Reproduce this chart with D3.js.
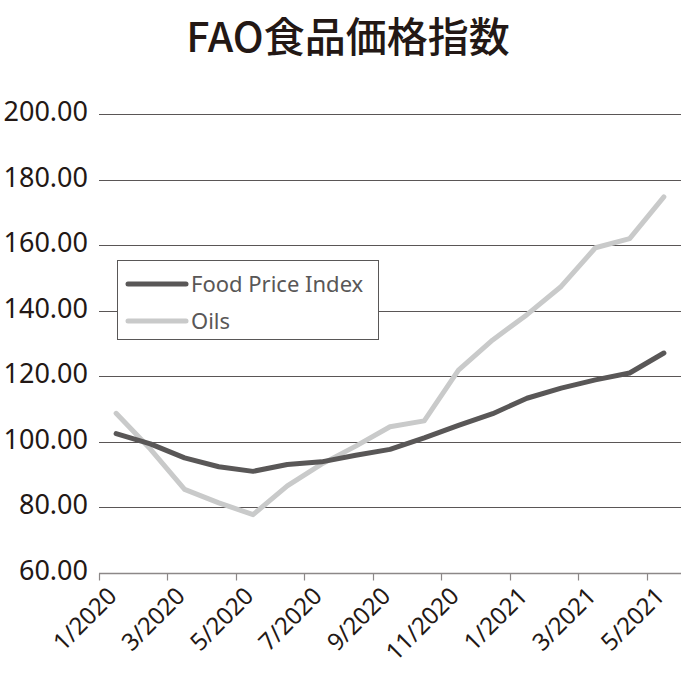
<!DOCTYPE html>
<meta charset="utf-8">
<title>FAO食品価格指数</title>
<style>
body { margin: 0; background: #fff; }
svg { display: block; font-family: "Noto Sans", "Noto Sans CJK JP", sans-serif; }
.grid line { stroke: #5a5656; stroke-width: 1; }
.tick-label { fill: #231815; font-size: 27px; }
.xlab { fill: #231815; font-size: 24px; }
.legend text { fill: #595757; font-size: 22px; }
</style>
<script src="https://d3js.org/d3.v7.min.js"></script>
<body>
<script>
var width = 696, height = 691;

var months = ["1/2020","2/2020","3/2020","4/2020","5/2020","6/2020","7/2020","8/2020","9/2020",
              "10/2020","11/2020","12/2020","1/2021","2/2021","3/2021","4/2021","5/2021"];
var foodIndex = [102.5, 99.4, 95.1, 92.4, 91.0, 93.1, 93.9, 95.9, 97.7,
                 101.2, 105.0, 108.6, 113.3, 116.4, 118.9, 121.0, 127.1];
var oils = [108.7, 97.8, 85.5, 81.4, 77.8, 86.6, 93.2, 98.7, 104.6,
            106.4, 121.9, 131.1, 138.8, 147.4, 159.2, 162.0, 174.7];
var yTicks = [60, 80, 100, 120, 140, 160, 180, 200];
var seriesNames = ["Food Price Index", "Oils"];
var seriesColors = ["#595757", "#c9caca"];

var svg = d3.select("body").append("svg")
    .attr("width", width)
    .attr("height", height);

var x = d3.scaleBand().domain(months).range([99, 681]).padding(0);
var y = d3.scaleLinear().domain([60, 200]).range([573, 114]);

// title
svg.append("text")
    .attr("x", 348).attr("y", 52)
    .attr("text-anchor", "middle")
    .style("font-family", "'Noto Sans CJK JP', sans-serif")
    .style("font-size", "41px")
    .style("font-weight", 500)
    .style("fill", "#231815")
    .text("FAO食品価格指数");

// grid lines
svg.append("g").attr("class", "grid")
  .selectAll("line")
  .data(yTicks.filter(function(d) { return d > 60; }))
  .enter().append("line")
    .attr("x1", 99).attr("x2", 681)
    .attr("y1", function(d) { return Math.round(y(d)) + 0.5; })
    .attr("y2", function(d) { return Math.round(y(d)) + 0.5; });

// y labels
svg.append("g")
  .selectAll("text")
  .data(yTicks)
  .enter().append("text")
    .attr("class", "tick-label")
    .attr("x", 88)
    .attr("y", function(d) { return y(d); })
    .attr("dy", "0.26em")
    .attr("text-anchor", "end")
    .text(function(d) { return d3.format(".2f")(d); });

// x axis
var xAxis = svg.append("g")
    .attr("transform", "translate(0," + (Math.round(y(60)) + 0.5) + ")");
xAxis.append("line")
    .attr("x1", 99).attr("x2", 681)
    .attr("stroke", "#8c8888").attr("stroke-width", 1.5);
xAxis.selectAll("line.tick")
  .data(months.filter(function(d, i) { return i % 2 === 0; }))
  .enter().append("line")
    .attr("class", "tick")
    .attr("x1", function(d) { return Math.round(x(d)) + 0.5; })
    .attr("x2", function(d) { return Math.round(x(d)) + 0.5; })
    .attr("y1", 0).attr("y2", 7)
    .attr("stroke", "#8c8888").attr("stroke-width", 1.2);
xAxis.selectAll("text")
  .data(months.filter(function(d, i) { return i % 2 === 0; }))
  .enter().append("text")
    .attr("class", "xlab")
    .attr("text-anchor", "end")
    .attr("transform", function(d) {
      return "translate(" + (x(d) + x.bandwidth() / 2 + 2) + ",24) rotate(-45)";
    })
    .text(function(d) { return d; });

// lines
var line = d3.line()
    .x(function(d, i) { return x(months[i]) + x.bandwidth() / 2; })
    .y(function(d) { return y(d); });

[oils, foodIndex].forEach(function(s, k) {
  svg.append("path")
      .datum(s)
      .attr("fill", "none")
      .attr("stroke", k === 0 ? seriesColors[1] : seriesColors[0])
      .attr("stroke-width", 5)
      .attr("stroke-linejoin", "round")
      .attr("stroke-linecap", "round")
      .attr("d", line);
});

// legend
var legend = svg.append("g").attr("class", "legend");
legend.append("rect")
    .attr("x", 117.5).attr("y", 260.5)
    .attr("width", 261).attr("height", 79)
    .attr("fill", "#fff")
    .attr("stroke", "#595757").attr("stroke-width", 1);
var items = legend.selectAll("g.item")
  .data(seriesNames)
  .enter().append("g")
    .attr("transform", function(d, i) { return "translate(0," + (284 + i * 37) + ")"; });
items.append("line")
    .attr("x1", 128).attr("x2", 186)
    .attr("stroke", function(d, i) { return seriesColors[i]; })
    .attr("stroke-width", 5)
    .attr("stroke-linecap", "round");
items.append("text")
    .attr("x", 191).attr("dy", "0.35em")
    .text(function(d) { return d; });
</script>
</body>
